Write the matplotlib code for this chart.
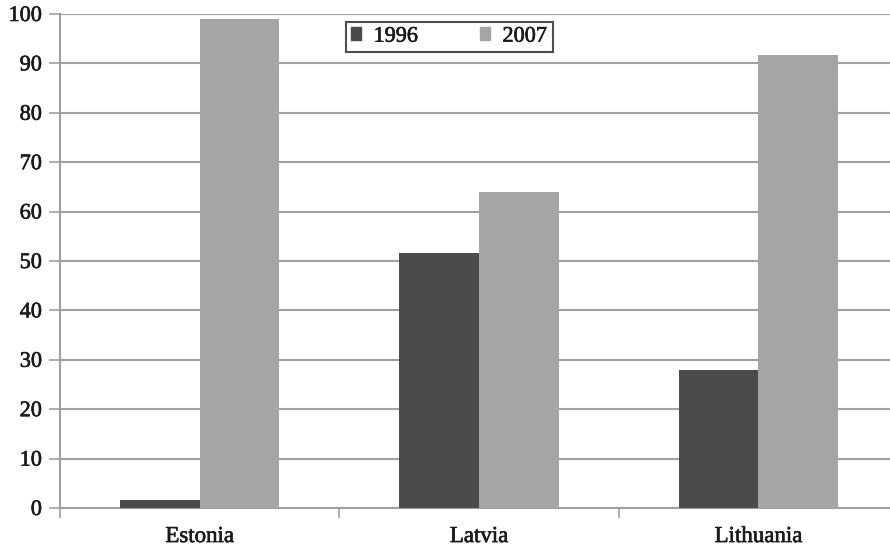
import numpy as np
import matplotlib
matplotlib.use("Agg")
from matplotlib import pyplot as plt
from matplotlib import patheffects
from matplotlib.patches import Patch

countries = ["Estonia", "Latvia", "Lithuania"]
years = ["1996", "2007"]
values_1996 = [1.6, 51.6, 28.0]
values_2007 = [99.0, 64.0, 91.8]

dark = "#4b4b4b"
light = "#a5a5a5"
grid_color = "#a0a0a0"
text_color = "#1a1a1a"

plt.rcParams["font.family"] = ["Liberation Serif", "DejaVu Serif"]

# slightly heavier strokes for all the text
heavy = [patheffects.withStroke(linewidth=0.45, foreground=text_color)]

fig = plt.figure(figsize=(8.9, 5.49), dpi=100)
ax = fig.add_axes([0.0674, 0.0747, 0.9416, 0.8998])

x = np.arange(len(countries))
width = 0.285
ax.bar(x - width / 2, values_1996, width, color=dark, zorder=3)
ax.bar(x + width / 2, values_2007, width, color=light, zorder=3)

ax.set_xlim(-0.5, len(countries) - 0.5)
ax.set_ylim(0, 100)
ax.set_yticks(range(0, 101, 10))
ax.yaxis.grid(True, color=grid_color, linewidth=1.5, zorder=0)

# category labels centred, tick marks only on the group boundaries
ax.set_xticks(x)
ax.set_xticklabels(countries, fontsize=16.5, color=text_color)
ax.tick_params(axis="x", length=0, pad=13)
ax.set_xticks(np.arange(-0.5, len(countries), 1.0), minor=True)
ax.tick_params(axis="x", which="minor", length=7, width=1.2, color=grid_color)
ax.tick_params(axis="y", length=8, width=1.2, color=grid_color,
               labelsize=16, labelcolor=text_color, pad=5)

for lbl in ax.get_xticklabels() + ax.get_yticklabels():
    lbl.set_path_effects(heavy)

for side in ["top", "right"]:
    ax.spines[side].set_visible(False)
for side in ["left", "bottom"]:
    ax.spines[side].set_color(grid_color)
    ax.spines[side].set_linewidth(1.5)

handles = [Patch(color=dark), Patch(color=light)]
leg = ax.legend(handles, years, ncol=2, loc="upper left",
                bbox_to_anchor=(0.341, 0.984), fontsize=16,
                frameon=True, fancybox=False, handlelength=0.45, handleheight=0.5,
                columnspacing=2.8, handletextpad=0.55, borderpad=0.25,
                borderaxespad=0)
leg.get_frame().set_edgecolor("#222222")
leg.get_frame().set_linewidth(1.5)
for t in leg.get_texts():
    t.set_color(text_color)
    t.set_path_effects(heavy)

fig.savefig("out.png", dpi=100)
